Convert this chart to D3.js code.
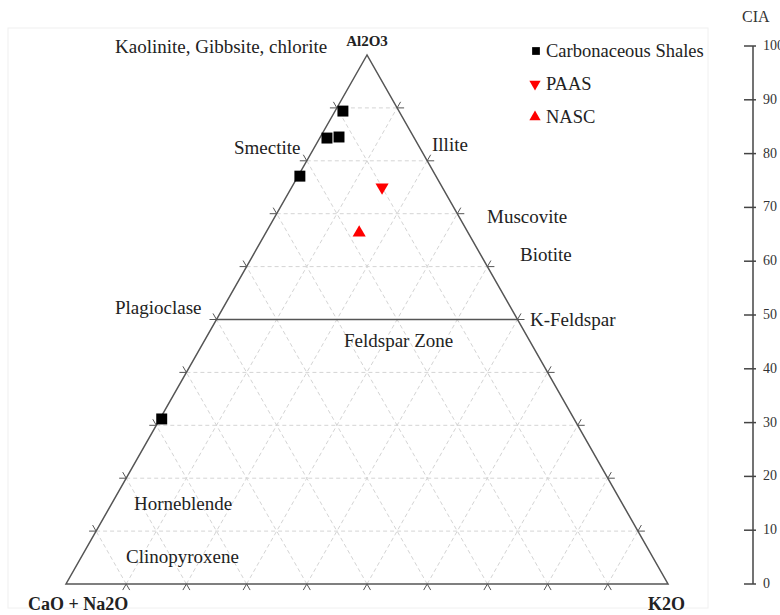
<!doctype html>
<html lang="en">

<head>
    <meta charset="UTF-8" />
    <title>A-CN-K Ternary Diagram</title>
    <style>
        body {
            margin: 0;
            background: #fff;
            font-family: 'Liberation Serif', 'Times New Roman', serif;
        }

        .edge {
            fill: none;
            stroke: #555;
            stroke-width: 1.5px;
        }

        .grid-line {
            stroke: #d4d4d4;
            stroke-width: 1px;
            stroke-dasharray: 4, 3;
        }

        .tick-mark {
            stroke: #555;
            stroke-width: 1px;
            fill: none;
        }

        .zone-label {
            font-size: 19px;
            fill: #222;
        }

        .corner-label {
            font-size: 18px;
            font-weight: bold;
            fill: #222;
        }
    </style>
    <script src="https://d3js.org/d3.v7.min.js"></script>
</head>

<body>
    <div id="chart-container"></div>
    <script>
        // sample compositions (Al2O3, CaO+Na2O, K2O in %)
        var shaleAl2O3 = [89.4, 84.5, 84.3, 77.1, 31.2];
        var shaleCaONa2O = [9.3, 12.4, 14.5, 22.6, 68.5];
        var shaleK2O = [1.3, 3.1, 1.2, 0.3, 0.3];

        var paasComp = [75.0, 10.0, 15.0];
        var nascComp = [66.4, 18.1, 15.5];

        var gridSteps = [10, 20, 30, 40, 50, 60, 70, 80, 90];
        var ciaTicks = [0, 10, 20, 30, 40, 50, 60, 70, 80, 90, 100];

        var legendNames = ['Carbonaceous Shales', 'PAAS', 'NASC'];

        var zoneLabels = [
            { text: 'Kaolinite, Gibbsite, chlorite', x: 115, y: 53 },
            { text: 'Smectite', x: 234, y: 154 },
            { text: 'Illite', x: 432, y: 151 },
            { text: 'Muscovite', x: 487, y: 223 },
            { text: 'Biotite', x: 520, y: 261 },
            { text: 'Plagioclase', x: 115, y: 314 },
            { text: 'K-Feldspar', x: 530, y: 326 },
            { text: 'Feldspar Zone', x: 344, y: 347 },
            { text: 'Horneblende', x: 134, y: 510 },
            { text: 'Clinopyroxene', x: 126, y: 563 }
        ];

        var canvasWidth = 780;
        var canvasHeight = 615;

        var svg = d3
            .select('#chart-container')
            .append('svg')
            .attr('width', canvasWidth)
            .attr('height', canvasHeight);

        // triangle frame
        var triLeft = 66, triRight = 668, triTop = 55, triBottom = 584;
        var xScale = d3.scaleLinear().domain([0, 1]).range([triLeft, triRight]);
        var yScale = d3.scaleLinear().domain([0, 1]).range([triBottom, triTop]);

        // a = Al2O3, c = CaO+Na2O, k = K2O
        function project(a, c, k) {
            var s = a + c + k;
            a = a / s; k = k / s;
            return [xScale(k + a / 2), yScale(a)];
        }

        // faint panel border
        svg.append('rect')
            .attr('x', 8).attr('y', 28)
            .attr('width', 700).attr('height', 580)
            .attr('fill', 'none')
            .attr('stroke', '#f0f0f0');

        var g = svg.append('g');
        var line = d3.line();

        // dashed grid, three directions
        gridSteps.forEach(function (v) {
            // constant Al2O3
            g.append('path').attr('class', 'grid-line')
                .attr('d', line([project(v, 100 - v, 0), project(v, 0, 100 - v)]));
            // constant K2O
            g.append('path').attr('class', 'grid-line')
                .attr('d', line([project(0, 100 - v, v), project(100 - v, 0, v)]));
            // constant CaO+Na2O
            g.append('path').attr('class', 'grid-line')
                .attr('d', line([project(0, v, 100 - v), project(100 - v, v, 0)]));
        });

        // ticks on edges: small chevrons continuing grid lines outward
        var tl = 7;
        var ang = Math.PI / 3;
        gridSteps.forEach(function (v) {
            // bottom edge
            var p = project(0, 100 - v, v);
            g.append('path').attr('class', 'tick-mark')
                .attr('d', line([[p[0] - tl * Math.cos(ang), p[1] + tl * Math.sin(ang)], p,
                    [p[0] + tl * Math.cos(ang), p[1] + tl * Math.sin(ang)]]));
            // left edge
            p = project(v, 100 - v, 0);
            g.append('path').attr('class', 'tick-mark')
                .attr('d', line([[p[0] - tl, p[1]], p,
                    [p[0] - tl * Math.cos(ang), p[1] - tl * Math.sin(ang)]]));
            // right edge
            p = project(v, 0, 100 - v);
            g.append('path').attr('class', 'tick-mark')
                .attr('d', line([[p[0] + tl, p[1]], p,
                    [p[0] + tl * Math.cos(ang), p[1] - tl * Math.sin(ang)]]));
        });

        // triangle outline
        g.append('path').attr('class', 'edge')
            .attr('d', line([project(100, 0, 0), project(0, 100, 0), project(0, 0, 100)]) + 'Z');

        // feldspar join at 50% Al2O3
        g.append('path').attr('class', 'edge')
            .attr('d', line([project(50, 50, 0), project(50, 0, 50)]));

        // zone labels
        svg.selectAll('.zone-label')
            .data(zoneLabels)
            .enter()
            .append('text')
            .attr('class', 'zone-label')
            .attr('x', function (d) { return d.x; })
            .attr('y', function (d) { return d.y; })
            .text(function (d) { return d.text; });

        // corner labels
        var apex = project(100, 0, 0);
        svg.append('text').attr('class', 'corner-label')
            .attr('x', apex[0]).attr('y', apex[1] - 9)
            .attr('text-anchor', 'middle')
            .style('font-size', '15px')
            .text('Al2O3');
        svg.append('text').attr('class', 'corner-label')
            .attr('x', 28).attr('y', 610)
            .text('CaO + Na2O');
        svg.append('text').attr('class', 'corner-label')
            .attr('x', 648).attr('y', 610)
            .text('K2O');

        // samples
        var shalePts = shaleAl2O3.map(function (a, i) {
            return project(a, shaleCaONa2O[i], shaleK2O[i]);
        });
        var sq = d3.symbol().type(d3.symbolSquare).size(120);
        var tri = d3.symbol().type(d3.symbolTriangle).size(75);

        g.selectAll('.shale')
            .data(shalePts)
            .enter()
            .append('path')
            .attr('class', 'shale')
            .attr('d', sq)
            .attr('fill', '#000')
            .attr('transform', function (d) { return 'translate(' + d[0] + ',' + d[1] + ')'; });

        var pp = project(paasComp[0], paasComp[1], paasComp[2]);
        g.append('path').attr('d', tri).attr('fill', '#f00')
            .attr('transform', 'translate(' + pp[0] + ',' + pp[1] + ') rotate(180)');

        var np = project(nascComp[0], nascComp[1], nascComp[2]);
        g.append('path').attr('d', tri).attr('fill', '#f00')
            .attr('transform', 'translate(' + np[0] + ',' + np[1] + ')');

        // legend
        var legend = svg.append('g').attr('transform', 'translate(536,51)');
        legend.append('path').attr('d', d3.symbol().type(d3.symbolSquare).size(60))
            .attr('fill', '#000');
        legend.append('path').attr('d', d3.symbol().type(d3.symbolTriangle).size(55))
            .attr('fill', '#f00')
            .attr('transform', 'translate(-1,33) rotate(180)');
        legend.append('path').attr('d', d3.symbol().type(d3.symbolTriangle).size(55))
            .attr('fill', '#f00')
            .attr('transform', 'translate(-1,66)');
        legend.selectAll('text')
            .data(legendNames)
            .enter()
            .append('text')
            .attr('x', 10)
            .attr('y', function (d, i) { return 6 + i * 33; })
            .style('font-size', '18.5px')
            .attr('fill', '#222')
            .text(function (d) { return d; });

        // CIA scale on the right
        var ciaScale = d3.scaleLinear().domain([0, 100]).range([584, 46]);
        var cia = svg.append('g').attr('transform', 'translate(753,0)');
        cia.append('line')
            .attr('y1', ciaScale(0)).attr('y2', ciaScale(100))
            .attr('stroke', '#444').attr('stroke-width', 1.5);
        cia.selectAll('.cia-tick')
            .data(ciaTicks)
            .enter()
            .append('line')
            .attr('x1', -9).attr('x2', 3)
            .attr('y1', function (d) { return ciaScale(d); })
            .attr('y2', function (d) { return ciaScale(d); })
            .attr('stroke', '#444').attr('stroke-width', 1.5);
        cia.selectAll('.cia-label')
            .data(ciaTicks)
            .enter()
            .append('text')
            .attr('x', 10)
            .attr('y', function (d) { return ciaScale(d) + 4; })
            .style('font-size', '14px')
            .attr('fill', '#333')
            .text(function (d) { return d; });
        svg.append('text')
            .attr('x', 742).attr('y', 22)
            .style('font-size', '16px')
            .attr('fill', '#333')
            .text('CIA');
    </script>
</body>

</html>
